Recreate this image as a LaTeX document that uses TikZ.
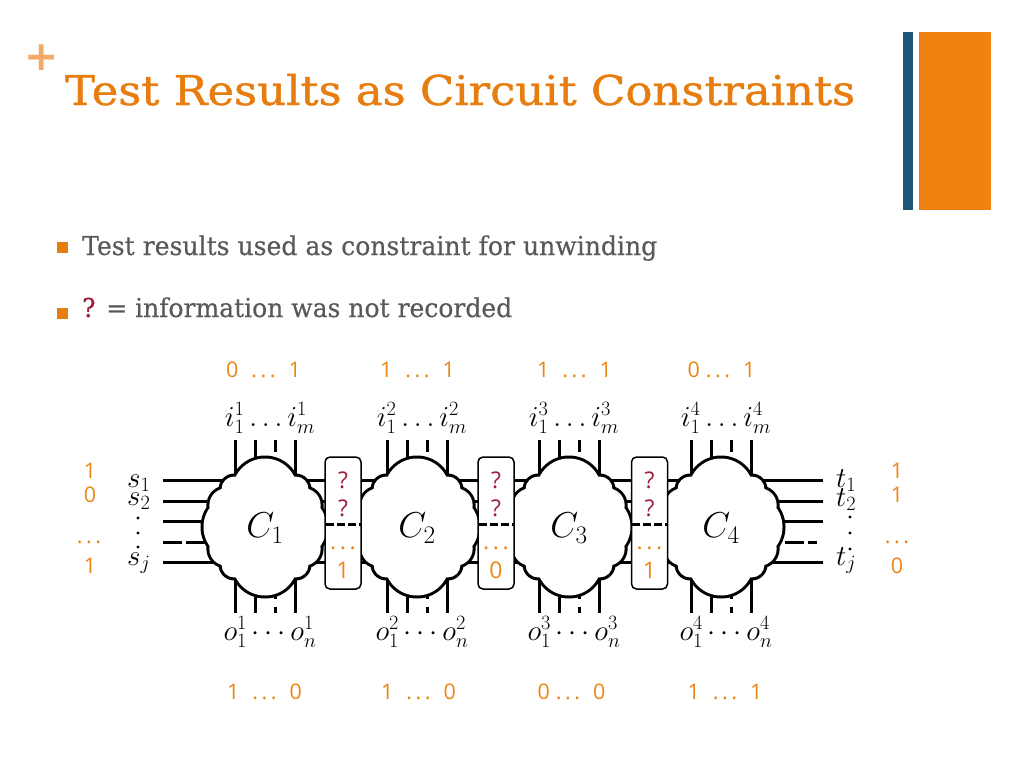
\RequirePackage{fix-cm}
\documentclass[tikz,border=0pt]{standalone}
\usepackage{fontspec}
\usepackage{graphicx}
\usetikzlibrary{calc}
\newfontfamily\slabt[FakeBold=0.9]{DejaVu Serif}
\newfontfamily\slab[FakeBold=0.4]{DejaVu Serif}
\newfontfamily\osans{Open Sans}
\newfontfamily\dvs{DejaVu Sans}
\definecolor{torange}{RGB}{232,125,15}
\definecolor{plusor}{RGB}{244,170,100}
\definecolor{barblue}{RGB}{30,84,118}
\definecolor{barorange}{RGB}{240,130,15}
\definecolor{txtgray}{RGB}{89,89,89}
\definecolor{qm}{RGB}{158,28,58}
\definecolor{numor}{RGB}{235,135,20}
\newcommand{\cloudcircles}[1]{%
 (0,36) circle[radius={34#1}] (0,-36) circle[radius={34#1}]
 (-29,0) circle[radius={34#1}] (29,0) circle[radius={34#1}]
 (-30.7,37.7) circle[radius={14.3#1}] (30.7,37.7) circle[radius={14.3#1}]
 (-30.7,-37.7) circle[radius={14.3#1}] (30.7,-37.7) circle[radius={14.3#1}]
 (-38.75,21.7) circle[radius={18.4#1}] (38.75,21.7) circle[radius={18.4#1}]
 (-38.75,-21.7) circle[radius={18.4#1}] (38.75,-21.7) circle[radius={18.4#1}]
 (0,0) circle[radius={40#1}]}
\newcommand{\dd}{\mbox{.\kern3.6pt.\kern3.6pt.}}
\newcommand{\wsp}{\hspace{13pt}}
\newcommand{\nsp}{\hspace{6pt}}
\tikzset{
  wire/.style={line width=3pt, line cap=butt},
  hdash/.style={wire, dash pattern=on 19pt off 4pt},
  vdash/.style={wire, dash pattern=on 12pt off 8pt},
  bdash/.style={wire, dash pattern=on 8pt off 3pt},
  qbox/.style={draw, line width=1.5pt, rounded corners=5pt, fill=white, minimum width=36pt, minimum height=132pt, inner sep=0},
  num/.style={text=numor, font=\osans\fontsize{21.5}{24}\selectfont, inner sep=0},
  bnum/.style={text=numor, font=\osans\fontsize{23}{26}\selectfont, inner sep=0},
  qmark/.style={text=qm, font=\osans\fontsize{23}{26}\selectfont, inner sep=0},
  mlab/.style={inner sep=0, font=\fontsize{29}{34}\selectfont},
  clab/.style={inner sep=0, font=\fontsize{36}{40}\selectfont},
  dotm/.style={fill=black},
}
\begin{document}
\begin{tikzpicture}[x=1pt,y=-1pt]
\useasboundingbox (0,0) rectangle (1024,768);
\fill[white] (0,0) rectangle (1024,768);
% header
\node[text=plusor, inner sep=0, font=\dvs\bfseries\fontsize{41}{41}\selectfont] (plus) at (42,57.5) {+};
\node[anchor=base west, inner sep=0, text=torange] (title) at (65,105)
  {\resizebox{790pt}{\height}{\slabt\fontsize{41}{45}\selectfont Test Results as Circuit Constraints}};
\fill[barblue] (903,32) rectangle (913,210);
\fill[barorange] (919,32) rectangle (991,210);
% bullets
\node[fill=torange, minimum size=11pt, inner sep=0] (sq1) at (62.5,247.5) {};
\node[fill=torange, minimum size=11pt, inner sep=0] (sq2) at (62.5,313) {};
\node[anchor=base west, inner sep=0, text=txtgray] (bt1) at (82,255)
  {\resizebox{575pt}{\height}{\slab\fontsize{26}{30}\selectfont Test results used as constraint for unwinding}};
\node[anchor=base west, inner sep=0, text=txtgray] (bt2) at (82,317)
  {\resizebox{430pt}{\height}{\slab\fontsize{26}{30}\selectfont {\color{qm}?} = information was not recorded}};
% horizontal wires
\coordinate (hl1) at (163,480); \coordinate (hr1) at (823,480);
\coordinate (hl2) at (163,501); \coordinate (hr2) at (823,501);
\coordinate (hl5) at (163,562); \coordinate (hr5) at (823,562);
\draw[wire] (hl1) -- (hr1);
\draw[wire] (hl2) -- (hr2);
\draw[wire] (hl5) -- (hr5);
\coordinate (hl3) at (163,521); \coordinate (hl3e) at (215,521);
\coordinate (hr3) at (823,521); \coordinate (hr3e) at (770,521);
\draw[wire] (hl3) -- (hl3e);
\draw[wire] (hr3e) -- (hr3);
\coordinate (hl4) at (163,542); \coordinate (hl4e) at (210,542);
\coordinate (hr4) at (817,542); \coordinate (hr4e) at (762,542);
\draw[hdash] (hl4) -- (hl4e);
\draw[hdash] (hr4e) -- (hr4);
% vertical wires
\foreach \n/\cx in {1/265,2/417,3/569,4/721} {
  \draw[wire] (\cx-30,440) -- (\cx-30,613);
  \draw[wire] (\cx-10,440) -- (\cx-10,613);
  \draw[wire] (\cx+30,440) -- (\cx+30,613);
  \draw[vdash] (\cx+10,440) -- (\cx+10,527);
  \draw[vdash] (\cx+10,527) -- (\cx+10,613);
}
% clouds
\foreach \n/\cx in {1/265,2/417,3/569,4/721} {
  \begin{scope}[shift={(\cx,527)}]
    \fill[black] \cloudcircles{+1.5};
    \fill[white] \cloudcircles{-1.5};
  \end{scope}
  \node[clab] (c\n) at (\cx,528) {$C_{\n}$};
  \node[mlab, anchor=base] (i\n) at (\cx+5,426) {$i^{\n}_1\ldots i^{\n}_m$};
  \node[mlab, anchor=base] (o\n) at (\cx+5,640) {$o^{\n}_1\cdots o^{\n}_n$};
}
% boxes
\foreach \k/\bx/\d in {1/343/1,2/496/0,3/649.5/1} {
  \node[qbox] (q\k) at (\bx,523) {};
  \node[qmark] (qa\k) at (\bx,480) {?};
  \node[qmark] (qb\k) at (\bx,508) {?};
  \coordinate (dl\k) at (\bx-17.5,524);
  \coordinate (dr\k) at (\bx+17.5,524);
  \draw[bdash] (dl\k) -- (dr\k);
  \node[bnum, anchor=base] (qc\k) at (\bx,549) {\dd};
  \node[bnum] (qd\k) at (\bx,570) {\d};
}
% side labels
\node[mlab, anchor=base west] (s1) at (127,487) {$s_1$};
\node[mlab, anchor=base west] (s2) at (127,505) {$s_2$};
\node[mlab, anchor=base west] (sj) at (127,565) {$s_j$};
\fill[dotm] (138,518) circle[radius=1.6];
\fill[dotm] (138,533) circle[radius=1.6];
\fill[dotm] (138,547) circle[radius=1.6];
\node[mlab, anchor=base west] (t1) at (836,487) {$t_1$};
\node[mlab, anchor=base west] (t2) at (836,506) {$t_2$};
\node[mlab, anchor=base west] (tj) at (836,565) {$t_j$};
\fill[dotm] (850,517) circle[radius=1.6];
\fill[dotm] (850,533) circle[radius=1.6];
\fill[dotm] (850,549) circle[radius=1.6];
% orange values left/right
\node[num] (l1) at (90,471) {1};
\node[num] (l2) at (90,495) {0};
\node[num, anchor=base] (l3) at (89,543) {\dd};
\node[num] (l4) at (90,566) {1};
\node[num] (r1) at (897,471) {1};
\node[num] (r2) at (897,495) {1};
\node[num, anchor=base] (r3) at (897,543) {\dd};
\node[num] (r4) at (897,566) {0};
% orange values top/bottom
\node[num] (tv1) at (263.5,370) {0\wsp\dd\wsp1};
\node[num] (tv2) at (417.5,370) {1\wsp\dd\wsp1};
\node[num] (tv3) at (574.5,370) {1\wsp\dd\wsp1};
\node[num] (tv4) at (721.5,370) {0\nsp\dd\wsp1};
\node[num] (bv1) at (264.5,692) {1\wsp\dd\wsp0};
\node[num] (bv2) at (418.5,692) {1\wsp\dd\wsp0};
\node[num] (bv3) at (571.5,692) {0\nsp\dd\wsp0};
\node[num] (bv4) at (725,692) {1\wsp\dd\wsp1};
\end{tikzpicture}
\end{document}
